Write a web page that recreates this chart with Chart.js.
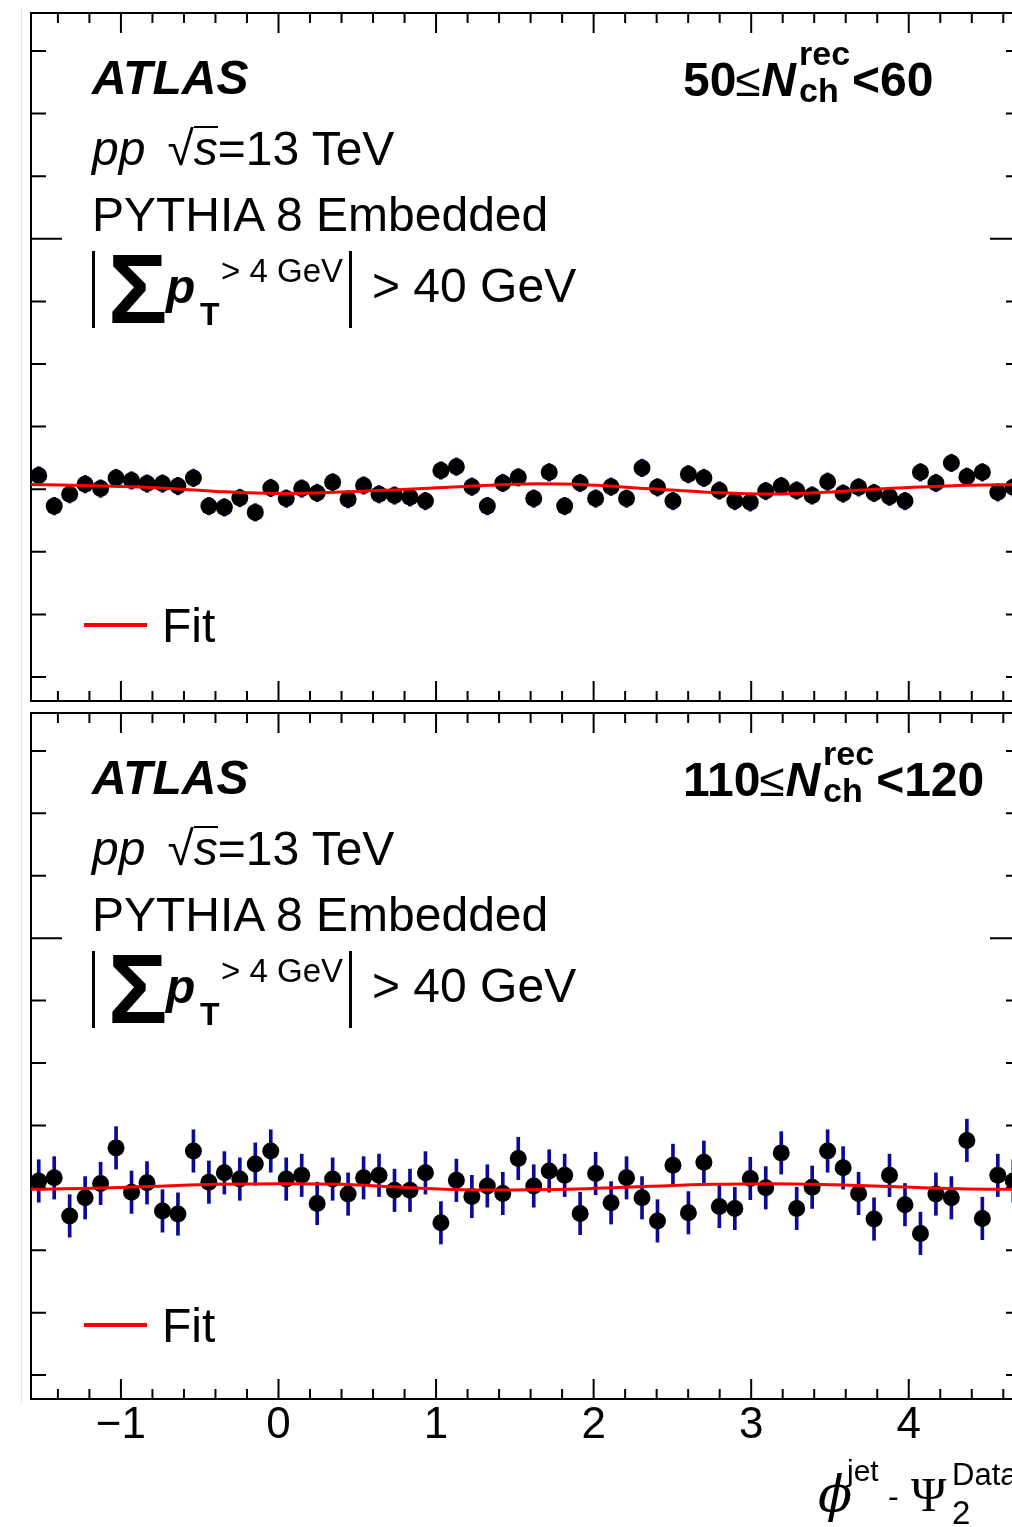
<!DOCTYPE html>
<html>
<head>
<meta charset="utf-8">
<script src="https://cdn.jsdelivr.net/npm/chart.js@4.4.1/dist/chart.umd.min.js"></script>
<style>
html, body { margin: 0; padding: 0; background: #fff; overflow: hidden; }
#wrap { position: relative; width: 1012px; height: 1527px; overflow: hidden; background: #fff; }
canvas { position: absolute; left: 0; }
.t { position: absolute; white-space: nowrap; line-height: 1; color: #000;
     font-family: 'Liberation Sans', Arial, Helvetica, sans-serif; }
.ov { display: inline-block; font-style: italic; border-top: 2px solid #000; line-height: 42px; }
.le { display: inline-block; font-size: 40px; transform: scale(1.15); transform-origin: 50% 85%; margin: 0 2px 0 1px; }
.ss { display: inline-grid; margin-left: 3px; margin-right: 2px; }
.ss > b { grid-area: 1 / 1; font-size: 34px; }
.sup { transform: translateY(-31px); }
.sub { transform: translateY(6px); }
</style>
</head>
<body>
<div id="wrap">
  <canvas id="topPanel" width="1040" height="720" style="top:0px"></canvas>
  <canvas id="bottomPanel" width="1040" height="827" style="top:700px"></canvas>
</div>
<script>
// bin centres of phi_jet - Psi_2 (64 bins from -pi/2 to 3pi/2)
const binCenters = [
  -1.5217, -1.4235, -1.3254, -1.2272, -1.1290, -1.0308, -0.9327, -0.8345, -0.7363, -0.6381,
  -0.5400, -0.4418, -0.3436, -0.2454, -0.1473, -0.0491, 0.0491, 0.1473, 0.2454, 0.3436,
  0.4418, 0.5400, 0.6381, 0.7363, 0.8345, 0.9327, 1.0308, 1.1290, 1.2272, 1.3254,
  1.4235, 1.5217, 1.6199, 1.7181, 1.8162, 1.9144, 2.0126, 2.1108, 2.2089, 2.3071,
  2.4053, 2.5035, 2.6016, 2.6998, 2.7980, 2.8962, 2.9943, 3.0925, 3.1907, 3.2889,
  3.3870, 3.4852, 3.5834, 3.6816, 3.7797, 3.8779, 3.9761, 4.0743, 4.1724, 4.2706,
  4.3688, 4.4670, 4.5651, 4.6633
];

// 50 <= Nch < 60
const topValues = [
  0.9622, 0.9573, 0.9592, 0.9608, 0.9601, 0.9618, 0.9614, 0.9609, 0.9609, 0.9605,
  0.9618, 0.9573, 0.9571, 0.9586, 0.9563, 0.9602, 0.9585, 0.9601, 0.9594, 0.9611,
  0.9584, 0.9606, 0.9592, 0.9590, 0.9587, 0.9581, 0.9630, 0.9636, 0.9604, 0.9573,
  0.9610, 0.9619, 0.9585, 0.9627, 0.9573, 0.9610, 0.9585, 0.9604, 0.9585, 0.9634,
  0.9603, 0.9581, 0.9624, 0.9618, 0.9598, 0.9581, 0.9579, 0.9597, 0.9605, 0.9598,
  0.9590, 0.9612, 0.9593, 0.9603, 0.9594, 0.9588, 0.9581, 0.9627, 0.9610, 0.9642,
  0.9620, 0.9627, 0.9595, 0.9603
];
const topError = 0.0014;

// 110 <= Nch < 120
const bottomValues = [
  0.9611, 0.9616, 0.9555, 0.9584, 0.9607, 0.9664, 0.9593, 0.9608, 0.9563, 0.9558,
  0.9659, 0.9609, 0.9624, 0.9614, 0.9638, 0.9659, 0.9614, 0.9620, 0.9575, 0.9614,
  0.9590, 0.9616, 0.9620, 0.9596, 0.9596, 0.9624, 0.9544, 0.9612, 0.9586, 0.9603,
  0.9591, 0.9647, 0.9603, 0.9627, 0.9620, 0.9559, 0.9623, 0.9576, 0.9616, 0.9584,
  0.9547, 0.9636, 0.9560, 0.9641, 0.9570, 0.9567, 0.9615, 0.9600, 0.9656, 0.9567,
  0.9601, 0.9659, 0.9632, 0.9591, 0.9550, 0.9620, 0.9573, 0.9527, 0.9590, 0.9584,
  0.9676, 0.9551, 0.9620, 0.9611
];
const bottomError = 0.0034;

// fit curves read at steps of pi/8
const fitPhi = [
  -1.5708, -1.1781, -0.7854, -0.3927, 0, 0.3927, 0.7854, 1.1781, 1.5708,
  1.9635, 2.3562, 2.7489, 3.1416, 3.5343, 3.9270, 4.3197, 4.7124
];
const topFit = [
  0.96077, 0.96056, 0.96024, 0.95965, 0.95933, 0.95954, 0.95997, 0.96045, 0.96085,
  0.96069, 0.96008, 0.95949, 0.95922, 0.95960, 0.96018, 0.96061, 0.96077
];
const bottomFit = [
  0.95976, 0.95992, 0.96024, 0.96056, 0.96064, 0.96056, 0.96008, 0.95968, 0.95968,
  0.95987, 0.96024, 0.96056, 0.96067, 0.96048, 0.96016, 0.95987, 0.95976
];

const xTickValues = [-1, 0, 1, 2, 3, 4];
const xTickLabels = ['\u22121', '0', '1', '2', '3', '4'];
const yMin = 0.92617, yMax = 1.03607;

// frame with ROOT style inward ticks on all four sides
const frameTicks = {
  id: 'frameTicks',
  beforeDatasetsDraw(chart) {
    const ctx = chart.ctx, a = chart.chartArea;
    const x = chart.scales.x, y = chart.scales.y;
    ctx.save();
    ctx.strokeStyle = '#000';
    ctx.lineWidth = 2;
    ctx.strokeRect(a.left, a.top, a.right - a.left, a.bottom - a.top);
    ctx.beginPath();
    for (let k = -7; k <= 23; k++) {
      const px = x.getPixelForValue(k * 0.2);
      if (px < a.left + 2 || px > a.right - 2) continue;
      const len = k % 5 === 0 ? 20 : 10;
      ctx.moveTo(px, a.bottom); ctx.lineTo(px, a.bottom - len);
      ctx.moveTo(px, a.top); ctx.lineTo(px, a.top + len);
    }
    for (let k = 93; k <= 103; k++) {
      const py = y.getPixelForValue(k / 100);
      const len = k % 10 === 0 ? 31 : 15;
      ctx.moveTo(a.left, py); ctx.lineTo(a.left + len, py);
      ctx.moveTo(a.right, py); ctx.lineTo(a.right - len, py);
    }
    ctx.stroke();
    ctx.restore();
  }
};

function makePanel(id, values, err, fit, showX) {
  return new Chart(document.getElementById(id), {
    type: 'scatter',
    data: {
      datasets: [
        {
          type: 'line',
          label: 'Fit',
          data: fitPhi.map((p, i) => ({ x: p, y: fit[i] })),
          borderColor: '#ff0000',
          borderWidth: 3,
          pointRadius: 0,
          tension: 0.4,
          fill: false,
          order: 1
        },
        {
          type: 'scatter',
          data: binCenters.map((p, i) => ({ x: p, y: values[i] })),
          backgroundColor: '#000',
          pointRadius: 8.5,
          borderWidth: 0,
          clip: false,
          order: 2
        },
        {
          type: 'bar',
          data: binCenters.map((p, i) => ({ x: p, y: [values[i] - err, values[i] + err] })),
          backgroundColor: '#0a0a96',
          barThickness: 3,
          borderWidth: 0,
          grouped: false,
          clip: false,
          order: 3
        }
      ]
    },
    options: {
      responsive: false,
      animation: false,
      events: [],
      layout: { padding: { left: 31, top: 13, right: 19, bottom: showX ? 0 : 19 } },
      plugins: { legend: { display: false }, tooltip: { enabled: false } },
      scales: {
        x: {
          type: 'linear',
          min: -Math.PI / 2,
          max: 3 * Math.PI / 2,
          offset: false,
          display: showX,
          grid: { display: false, drawTicks: false, tickLength: 0 },
          border: { display: false },
          ticks: {
            stepSize: 1,
            includeBounds: false,
            autoSkip: false,
            maxRotation: 0,
            padding: 0,
            color: '#000',
            font: { family: 'Liberation Sans', size: 44 },
            callback: function(v) {
              const r = Math.round(v);
              const k = xTickValues.indexOf(r);
              return (Math.abs(v - r) < 1e-6 && k >= 0) ? xTickLabels[k] : '';
            }
          },
          afterFit: function(s) { if (showX) s.height = 128; }
        },
        y: { type: 'linear', min: yMin, max: yMax, display: false }
      }
    },
    plugins: [frameTicks]
  });
}

makePanel('topPanel', topValues, topError, topFit, false);
makePanel('bottomPanel', bottomValues, bottomError, bottomFit, true);

// text overlays
const wrap = document.getElementById('wrap');
function put(text, x, base, size, style, family) {
  const el = document.createElement('div');
  el.className = 't';
  el.innerHTML = text;
  el.style.left = x + 'px';
  el.style.top = (base - 0.8465 * size) + 'px';
  el.style.fontSize = size + 'px';
  if (family) el.style.fontFamily = family;
  if (style) el.style.cssText += style;
  wrap.appendChild(el);
  return el;
}
function box(x, y, w, h, color) {
  const el = document.createElement('div');
  el.style.cssText = 'position:absolute;left:' + x + 'px;top:' + y + 'px;width:' + w + 'px;height:' + h + 'px;background:' + color;
  wrap.appendChild(el);
}

function panelText(dy, lo, hi) {
  put('ATLAS', 92, 95 + dy, 48, 'font-weight:bold;font-style:italic;');
  put('<i>pp</i><span style="margin-left:22px">\u221A</span><span class="ov">s</span>=13 TeV', 92, 166 + dy, 48);
  put('PYTHIA 8 Embedded', 92, 232 + dy, 48);
  box(92, 251 + dy, 3, 77, '#000');
  put('\u03A3', 108, 323 + dy, 99, 'font-weight:bold;');
  put('p', 166, 304 + dy, 48, 'font-weight:bold;font-style:italic;');
  put('T', 200, 325 + dy, 32, 'font-weight:bold;');
  put('&gt; 4 GeV', 221, 282 + dy, 33);
  box(349, 251 + dy, 3, 77, '#000');
  put('&gt; 40 GeV', 372, 303 + dy, 48);
  put('<b>' + lo + '</b><span class="le">\u2264</span><b><i>N</i></b>' +
      '<span class="ss"><b class="sup">rec</b><b class="sub">ch</b></span><b>&lt;' + hi + '</b>',
      683, 97 + dy, 48);
  box(84, 623 + dy, 63, 4, '#ff0000');
  put('Fit', 162, 643 + dy, 48);
}
panelText(0, '50', '60');
panelText(700, '110', '120');

// x axis title
put('\u03D5', 818, 1511, 50, 'font-style:italic;', "'DejaVu Serif', serif");
put('jet', 847, 1481, 30);
put('-', 888, 1507, 32);
put('\u03A8', 911, 1512, 48, '', "'Liberation Serif', serif");
put('Data', 952, 1485, 31);
put('2', 952, 1524, 33);

// faint left edge line of the cropped figure
box(21, 8, 1, 1395, '#e4e4e4');
</script>
</body>
</html>
